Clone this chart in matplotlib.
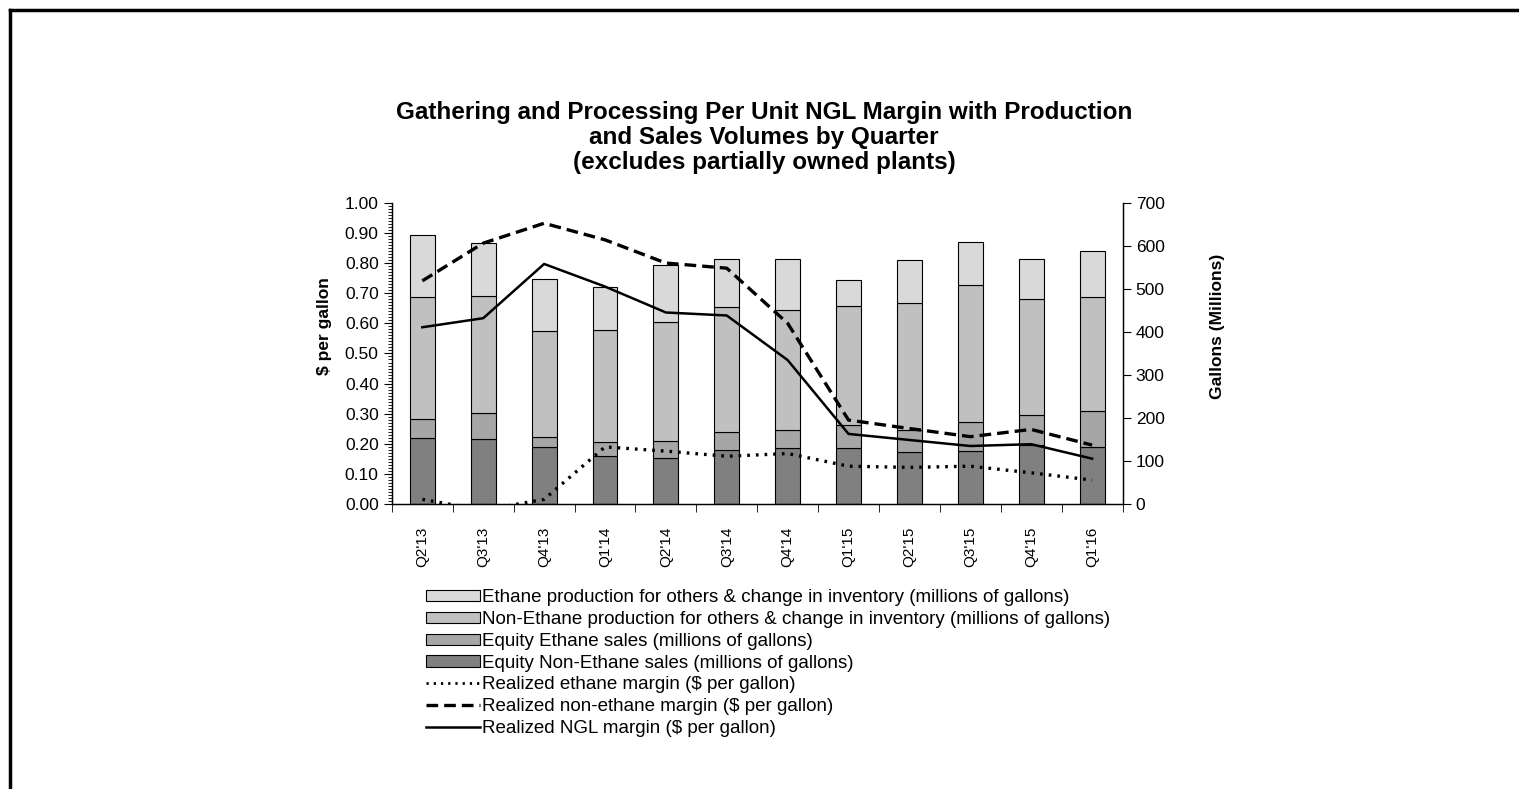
import numpy as np
import matplotlib
matplotlib.use("Agg")
import matplotlib.pyplot as plt
from matplotlib.lines import Line2D
from matplotlib.patches import Patch
from matplotlib.ticker import MultipleLocator, FormatStrFormatter

plt.rcParams["font.family"] = ["Liberation Sans", "DejaVu Sans"]

# ---------------------------------------------------------------------------
# Data
# ---------------------------------------------------------------------------
quarters = ["Q2'13", "Q3'13", "Q4'13", "Q1'14", "Q2'14", "Q3'14",
            "Q4'14", "Q1'15", "Q2'15", "Q3'15", "Q4'15", "Q1'16"]

# volumes, millions of gallons (stacked, bottom to top)
equity_non_ethane = [154, 152, 133, 112, 108, 125, 130, 130, 122, 124, 138, 132]
equity_ethane     = [44, 59, 23, 32, 39, 42, 43, 53, 50, 67, 68, 84]
non_ethane_prod   = [284, 273, 246, 261, 276, 292, 277, 278, 295, 318, 271, 265]
ethane_prod       = [142, 123, 122, 100, 133, 111, 120, 59, 99, 99, 92, 107]

# margins, $ per gallon
ethane_margin     = [0.016, -0.02, 0.016, 0.19, 0.176, 0.159, 0.168, 0.126, 0.122, 0.126, 0.104, 0.08]
non_ethane_margin = [0.741, 0.866, 0.932, 0.877, 0.80, 0.783, 0.60, 0.279, 0.251, 0.224, 0.248, 0.196]
ngl_margin        = [0.587, 0.617, 0.797, 0.722, 0.636, 0.626, 0.478, 0.233, 0.213, 0.193, 0.199, 0.151]

# ---------------------------------------------------------------------------
# Figure
# ---------------------------------------------------------------------------
fig = plt.figure(figsize=(15.19, 7.89), dpi=100)
ax = fig.add_axes([0.258, 0.361, 0.481, 0.382])
ax2 = ax.twinx()
ax.set_zorder(ax2.get_zorder() + 1)
ax.patch.set_visible(False)

x = np.arange(len(quarters))
w = 0.41
colors = ["#808080", "#a6a6a6", "#c0c0c0", "#d9d9d9"]
series = [equity_non_ethane, equity_ethane, non_ethane_prod, ethane_prod]
bottom = np.zeros(len(quarters))
for vals, c in zip(series, colors):
    ax2.bar(x, vals, w, bottom=bottom, color=c, edgecolor="black", linewidth=0.8)
    bottom += np.array(vals)

dotted = (0, (0.8, 1.8))
dashed = (0, (3.5, 1.8))
ax.plot(x, ethane_margin, color="black", linestyle=dotted, linewidth=2.4)
ax.plot(x, non_ethane_margin, color="black", linestyle=dashed, linewidth=2.4)
ax.plot(x, ngl_margin, color="black", linestyle="-", linewidth=1.8)

# axes setup
ax.set_xlim(-0.5, len(quarters) - 0.5)
ax.set_ylim(0, 1.0)
ax2.set_ylim(0, 700)
ax.yaxis.set_major_locator(MultipleLocator(0.1))
ax.yaxis.set_minor_locator(MultipleLocator(0.01))
ax.yaxis.set_major_formatter(FormatStrFormatter("%.2f"))
ax2.yaxis.set_major_locator(MultipleLocator(100))

ax.set_xticks(x)
ax.set_xticklabels(quarters, rotation=90, fontsize=11)
ax.set_xticks(np.arange(-0.5, len(quarters)), minor=True)
ax.tick_params(axis="x", which="major", length=0, pad=16)
ax.tick_params(axis="x", which="minor", length=6, direction="out")
ax.tick_params(axis="y", which="major", labelsize=12.5, length=6, direction="out")
ax.tick_params(axis="y", which="minor", length=3, direction="out")
ax2.tick_params(axis="y", labelsize=12.5, length=6, direction="out")

for a in (ax, ax2):
    a.spines["top"].set_visible(False)
    for s in a.spines.values():
        s.set_linewidth(0.9)

ax.set_ylabel("$ per gallon", fontsize=12.5, fontweight="bold")
ax.yaxis.set_label_coords(-0.082, 0.59)
ax2.set_ylabel("Gallons (Millions)", fontsize=12.5, fontweight="bold")
ax2.yaxis.set_label_coords(1.12, 0.59)

fig.text(0.503, 0.872,
         "Gathering and Processing Per Unit NGL Margin with Production\n"
         "and Sales Volumes by Quarter\n(excludes partially owned plants)",
         ha="center", va="top", fontsize=17.5, fontweight="bold", linespacing=1.1)

# legend
handles = [
    Patch(facecolor=colors[3], edgecolor="black", linewidth=0.8),
    Patch(facecolor=colors[2], edgecolor="black", linewidth=0.8),
    Patch(facecolor=colors[1], edgecolor="black", linewidth=0.8),
    Patch(facecolor=colors[0], edgecolor="black", linewidth=0.8),
    Line2D([], [], color="black", linestyle=dotted, linewidth=2.0),
    Line2D([], [], color="black", linestyle=dashed, linewidth=2.4),
    Line2D([], [], color="black", linestyle="-", linewidth=1.8),
]
labels = [
    "Ethane production for others & change in inventory (millions of gallons)",
    "Non-Ethane production for others & change in inventory (millions of gallons)",
    "Equity Ethane sales (millions of gallons)",
    "Equity Non-Ethane sales (millions of gallons)",
    "Realized ethane margin ($ per gallon)",
    "Realized non-ethane margin ($ per gallon)",
    "Realized NGL margin ($ per gallon)",
]
fig.legend(handles, labels, loc="upper left", bbox_to_anchor=(0.274, 0.265),
           frameon=False, fontsize=13.5, handlelength=2.9, handleheight=0.55,
           handletextpad=0.1, labelspacing=0.255, borderpad=0)

# partial page border (top and left edges)
fig.add_artist(Line2D([10 / 1519, 1.0], [1 - 10 / 789, 1 - 10 / 789],
                      transform=fig.transFigure, color="black", linewidth=2.5))
fig.add_artist(Line2D([10 / 1519, 10 / 1519], [1 - 10 / 789, 0.0],
                      transform=fig.transFigure, color="black", linewidth=2.5))

fig.savefig("out.png", dpi=100)
